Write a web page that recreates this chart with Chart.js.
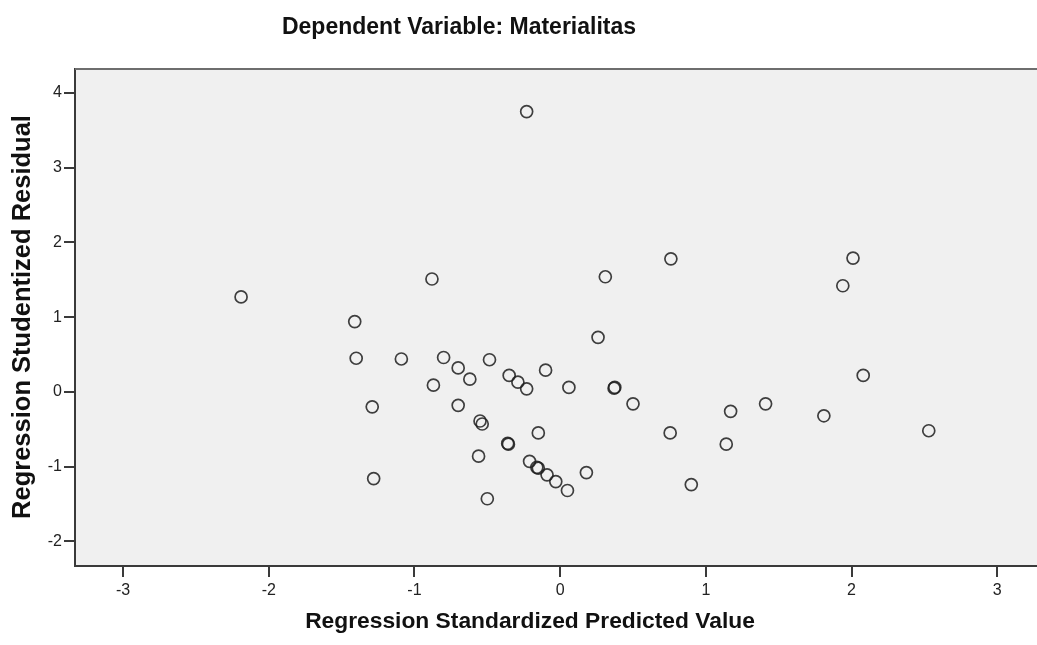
<!DOCTYPE html>
<html>
<head>
<meta charset="utf-8">
<title>Dependent Variable: Materialitas</title>
<script src="https://cdn.jsdelivr.net/npm/chart.js@4/dist/chart.umd.min.js"></script>
<style>
    html, body { margin: 0; padding: 0; background: #fff; overflow: hidden; }
</style>
</head>
<body>
<canvas id="residualChart" width="1037" height="645"></canvas>
<script>
const predicted = [
    -2.19, -0.23, -0.88, -1.41, -1.40, -1.09, -0.80, -0.70, -0.62, -0.485,
    -0.35, -0.29, -0.23, -0.10, -0.87, -1.29, -0.70, -0.55, -0.535, -0.15,
    -0.36, -0.355, -0.56, -0.21, -0.16, -0.15, -0.09, -0.03, 0.05, 0.18,
    -1.28, -0.50, 0.06, 0.37, 0.375, 0.50, 0.76, 0.31, 1.94, 0.26,
    1.17, 1.41, 1.81, 0.755, 1.14, 0.90, 2.01, 2.08, 2.53
];
const residual = [
    1.27, 3.75, 1.51, 0.94, 0.45, 0.44, 0.46, 0.32, 0.17, 0.43,
    0.22, 0.13, 0.04, 0.29, 0.09, -0.20, -0.18, -0.39, -0.43, -0.55,
    -0.69, -0.70, -0.86, -0.93, -1.01, -1.02, -1.11, -1.20, -1.32, -1.08,
    -1.16, -1.43, 0.06, 0.05, 0.06, -0.16, 1.78, 1.54, 1.42, 0.73,
    -0.26, -0.16, -0.32, -0.55, -0.70, -1.24, 1.79, 0.22, -0.52
];
const xTicks = [-3, -2, -1, 0, 1, 2, 3];
const yTicks = [-2, -1, 0, 1, 2, 3, 4];

const chartTitle = 'Dependent Variable: Materialitas';
const xTitle = 'Regression Standardized Predicted Value';
const yTitle = 'Regression Studentized Residual';

const axisColor = '#3a3a3a';
const plotBg = '#f0f0f0';
const boldFont = '"Liberation Sans", Arial, sans-serif';

// plot background (runs off the right edge like the cropped original),
// top frame line and the titles
const spssFrame = {
    id: 'spssFrame',
    beforeDraw(chart) {
        const { ctx, chartArea: a } = chart;
        ctx.save();
        ctx.fillStyle = plotBg;
        ctx.fillRect(a.left, a.top, chart.width - a.left, a.bottom - a.top);
        ctx.restore();
    },
    afterDraw(chart) {
        const { ctx, chartArea: a } = chart;
        ctx.save();
        ctx.lineWidth = 2;
        ctx.strokeStyle = '#6e6e6e';
        ctx.beginPath();
        ctx.moveTo(a.left, a.top);
        ctx.lineTo(chart.width, a.top);
        ctx.stroke();
        // carry the x axis line to the edge
        ctx.strokeStyle = axisColor;
        ctx.beginPath();
        ctx.moveTo(a.right - 1, a.bottom);
        ctx.lineTo(chart.width, a.bottom);
        ctx.stroke();

        ctx.fillStyle = '#111';
        ctx.textAlign = 'center';
        ctx.textBaseline = 'middle';
        ctx.font = 'bold 23px ' + boldFont;
        ctx.fillText(chartTitle, 459, 28);
        ctx.font = 'bold 22.8px ' + boldFont;
        ctx.fillText(xTitle, 530, 622);

        ctx.font = 'bold 25.5px ' + boldFont;
        ctx.translate(23, 317);
        ctx.rotate(-Math.PI / 2);
        ctx.fillText(yTitle, 0, 0);
        ctx.restore();
    }
};

Chart.defaults.animation = false;
Chart.defaults.font.family = '"Liberation Sans", Arial, sans-serif';

new Chart(document.getElementById('residualChart'), {
    type: 'scatter',
    data: {
        datasets: [{
            data: predicted.map((x, i) => ({ x: x, y: residual[i] })),
            pointStyle: 'circle',
            pointRadius: 6,
            pointHoverRadius: 6,
            pointBorderWidth: 1.7,
            pointBorderColor: 'rgba(30,30,30,0.85)',
            pointBackgroundColor: 'rgba(0,0,0,0)'
        }]
    },
    options: {
        responsive: false,
        layout: { padding: { top: 69, right: 0, bottom: 0, left: 0 } },
        plugins: {
            legend: { display: false },
            tooltip: { enabled: false }
        },
        scales: {
            x: {
                type: 'linear',
                min: -3.33,
                max: 3.22,
                afterBuildTicks: s => { s.ticks = xTicks.map(v => ({ value: v })); },
                afterFit: s => { s.height = 79; },
                border: { color: axisColor, width: 2 },
                grid: { drawOnChartArea: false, drawTicks: true, tickLength: 11, tickColor: axisColor, lineWidth: 2 },
                ticks: { color: '#222', font: { size: 16 }, padding: 4, maxRotation: 0 }
            },
            y: {
                type: 'linear',
                min: -2.33,
                max: 4.32,
                afterBuildTicks: s => { s.ticks = yTicks.map(v => ({ value: v })); },
                afterFit: s => { s.width = 75; },
                border: { color: axisColor, width: 2 },
                grid: { drawOnChartArea: false, drawTicks: true, tickLength: 11, tickColor: axisColor, lineWidth: 2 },
                ticks: { color: '#222', font: { size: 16 }, padding: 2 }
            }
        }
    },
    plugins: [spssFrame]
});
</script>
</body>
</html>
